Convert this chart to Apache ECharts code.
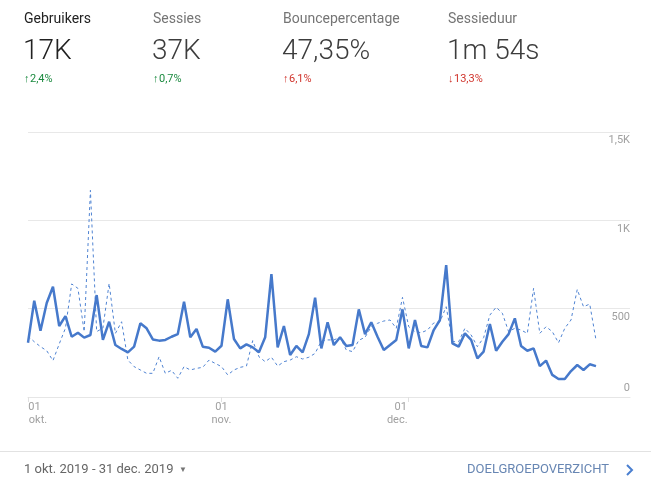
<!DOCTYPE html>
<html><head><meta charset="utf-8">
<script src="https://cdn.jsdelivr.net/npm/echarts@6/dist/echarts.min.js"></script>
<style>html,body{margin:0;padding:0;background:#fff}#c{width:651px;height:489px}</style>
</head><body><div id="c"></div>
<script>
// --- data ---
const users = [307,545,375,532,624,402,458,341,364,336,351,577,323,426,294,272,253,285,417,389,
326,319,323,341,356,539,338,385,285,279,257,290,553,328,275,298,281,253,338,696,
281,402,238,289,253,356,562,275,423,294,338,289,294,496,356,423,341,266,294,323,
496,275,436,289,281,379,436,747,304,285,360,323,219,257,413,262,313,356,445,289,
262,275,175,206,125,102,102,147,181,153,185,175];
const previous = [345,313,285,262,206,300,390,640,615,370,1170,370,390,643,360,426,209,172,153,134,
134,228,134,151,106,172,153,162,168,209,190,172,125,153,168,175,319,228,200,225,
175,200,209,228,215,225,247,317,323,323,338,266,257,321,338,398,417,430,436,389,
564,398,370,364,379,419,426,511,313,313,389,351,285,336,464,508,474,370,389,379,
360,615,360,398,370,307,389,436,609,511,526,323];
const xTickIndex = [0, 31, 61];
const xTickDay = ['01', '01', '01'];
const xTickMonth = ['okt.', 'nov.', 'dec.'];
const yTicks = [0, 500, 1000, 1500];
const yTickLabels = ['0', '500', '1K', '1,5K'];
const metricNames = ['Gebruikers', 'Sessies', 'Bouncepercentage', 'Sessieduur'];
const metricValues = ['17K', '37K', '47,35%', '1m 54s'];
const metricChanges = ['2,4%', '0,7%', '6,1%', '13,3%'];
const metricUp = [true, true, true, false];
const metricGood = [true, true, false, false];
const dateRange = '1 okt. 2019 - 31 dec. 2019';
const linkText = 'DOELGROEPOVERZICHT';

// --- chart ---
const F = 'Roboto, "Noto Sans", sans-serif';
const metricX = [24, 153, 283, 448];
const graphic = [];
metricNames.forEach((n, i) => {
  graphic.push({type:'text', x: metricX[i], y: 19, style:{text:n, font:'400 14px ' + F, fill: i===0 ? '#222222' : '#757575', verticalAlign:'middle'}});
  graphic.push({type:'text', x: metricX[i]-1, y: 52, style:{text:metricValues[i], font:'300 28px ' + F, fill: i===0 ? '#212121' : '#3c3c3c', verticalAlign:'middle'}});
  const col = metricGood[i] ? '#1b8a3f' : '#d0342c';
  graphic.push({type:'text', x: metricX[i], y: 79, style:{text:(metricUp[i] ? '\u2191' : '\u2193'), font:'700 11px ' + F, fill: col, verticalAlign:'middle'}});
  graphic.push({type:'text', x: metricX[i]+6, y: 79, style:{text:metricChanges[i], font:'400 11px ' + F, fill: col, verticalAlign:'middle'}});
});
graphic.push({type:'rect', shape:{x:0, y:451, width:651, height:1}, style:{fill:'#e2e2e2'}});
graphic.push({type:'text', x: 24, y: 470, style:{text:dateRange, font:'400 13px ' + F, fill:'#666666', verticalAlign:'middle'}});
graphic.push({type:'text', x: 179, y: 470, style:{text:'\u25BC', font:'400 8px ' + F, fill:'#757575', verticalAlign:'middle'}});
graphic.push({type:'text', x: 609, y: 470, style:{text:linkText, font:'400 13px ' + F, fill:'#6786b3', align:'right', verticalAlign:'middle'}});
graphic.push({type:'polyline', shape:{points:[[627,465],[632,470],[627,475]]}, style:{stroke:'#4a7fd0', lineWidth:2, fill:null}});

const richBase = {fontSize: 11, color: '#a0a0a0', fontFamily: F, lineHeight: 13};
const option = {
  animation: false,
  graphic: graphic,
  grid: {left: 28, right: 21, top: 132, bottom: 92},
  xAxis: {
    type: 'value', min: 0, max: 96.45,
    splitLine: {show: false},
    axisLine: {show: true, lineStyle: {color: '#e6e6e6', width: 1}},
    axisTick: {show: true, customValues: xTickIndex, length: 5, lineStyle: {color: '#e0e0e0'}},
    axisLabel: {
      customValues: xTickIndex, margin: 4,
      formatter: function (v) {
        const k = xTickIndex.indexOf(Math.round(v));
        if (k < 0) return '';
        const s = ['o', 'n', 'd'][k];
        return '{' + s + '1|' + xTickDay[k] + '}\n{' + s + '2|' + xTickMonth[k] + '}';
      },
      rich: {
        o1: Object.assign({padding: [0, 0, 0, 13]}, richBase),
        o2: Object.assign({padding: [0, 0, 0, 20]}, richBase),
        n1: Object.assign({}, richBase),
        n2: Object.assign({}, richBase),
        d1: Object.assign({padding: [0, 16, 0, 0]}, richBase),
        d2: Object.assign({padding: [0, 23, 0, 0]}, richBase)
      }
    }
  },
  yAxis: [{
    type: 'value', position: 'right', min: 0, max: 1500, interval: 500,
    axisLine: {show: false}, axisTick: {show: false},
    splitLine: {show: true, lineStyle: {color: '#e8e8e8', width: 1}},
    axisLabel: {
      align: 'right', margin: 0, verticalAlign: 'top', padding: [3, 0, 0, 0],
      color: '#a0a0a0', fontSize: 11, fontFamily: F,
      formatter: v => v === 0 ? '' : yTickLabels[yTicks.indexOf(v)]
    }
  }, {
    type: 'value', position: 'right', min: 0, max: 1500, interval: 500,
    axisLine: {show: false}, axisTick: {show: false}, splitLine: {show: false},
    axisLabel: {
      align: 'right', margin: 0, verticalAlign: 'bottom', padding: [0, 0, 3, 0],
      color: '#a0a0a0', fontSize: 11, fontFamily: F,
      formatter: v => v === 0 ? yTickLabels[0] : ''
    }
  }],
  series: [{
    type: 'line', name: 'Vorige periode', data: previous.map((v, i) => [i, v]),
    showSymbol: false, z: 1,
    lineStyle: {color: '#4f83d2', width: 1, type: [3, 3]}
  }, {
    type: 'line', name: 'Gebruikers', data: users.map((v, i) => [i, v]),
    showSymbol: false, z: 2,
    lineStyle: {color: '#4679cb', width: 2.5}
  }]
};
const chart = echarts.init(document.getElementById('c'), null, {renderer: 'canvas'});
chart.setOption(option);
</script></body></html>
